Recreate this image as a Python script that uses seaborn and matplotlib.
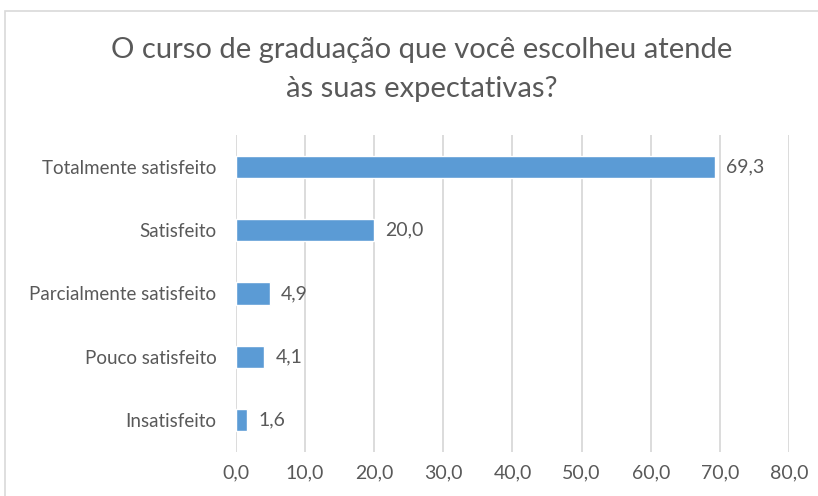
import matplotlib
matplotlib.use("Agg")
import matplotlib.pyplot as plt
import matplotlib.patches as mpatches
import seaborn as sns
import pandas as pd

# data
categorias = ["Totalmente satisfeito", "Satisfeito", "Parcialmente satisfeito",
              "Pouco satisfeito", "Insatisfeito"]
percentuais = [69.3, 20.0, 4.9, 4.1, 1.6]
ticks_x = [0, 10, 20, 30, 40, 50, 60, 70, 80]

df = pd.DataFrame({"categoria": categorias, "pct": percentuais})

sns.set_theme(style="white")
plt.rcParams["font.family"] = ["Lato", "DejaVu Sans"]

texto = "#595959"
grade = "#D9D9D9"
azul = "#5B9BD5"

fig = plt.figure(figsize=(8.18, 4.96), dpi=100)
ax = fig.add_axes([0.2885, 0.0887, 0.676, 0.6393])

sns.barplot(data=df, x="pct", y="categoria", orient="h", color=azul,
            saturation=1, width=0.35, ax=ax)

for i, v in enumerate(percentuais):
    ax.text(v + 1.6, i, f"{v:.1f}".replace(".", ","), va="center", ha="left",
            fontsize=14, color=texto)

ax.set_xlim(0, 80)
ax.set_ylim(4.5, -0.5)
ax.set_xticks(ticks_x)
ax.set_xticklabels([f"{t:.1f}".replace(".", ",") for t in ticks_x],
                   fontsize=14, color=texto)
ax.tick_params(axis="y", labelsize=13.5, labelcolor=texto, length=0, pad=14)
ax.tick_params(axis="x", length=0, pad=9)
ax.set_xlabel("")
ax.set_ylabel("")
ax.xaxis.grid(True, color=grade, linewidth=1.3)
ax.set_axisbelow(True)
for s in ax.spines.values():
    s.set_visible(False)

fig.text(0.515, 0.86, "O curso de graduação que você escolheu atende\nàs suas expectativas?",
         ha="center", va="center", fontsize=21, color=texto, linespacing=1.6)

# borda do grafico
borda = mpatches.Rectangle((5 / 818, -0.1), 1.2, 1 - 11 / 496 + 0.1,
                           transform=fig.transFigure, fill=False,
                           edgecolor="#D9D9D9", linewidth=1.2)
fig.patches.append(borda)

fig.savefig("out.png", dpi=100, facecolor="white")
